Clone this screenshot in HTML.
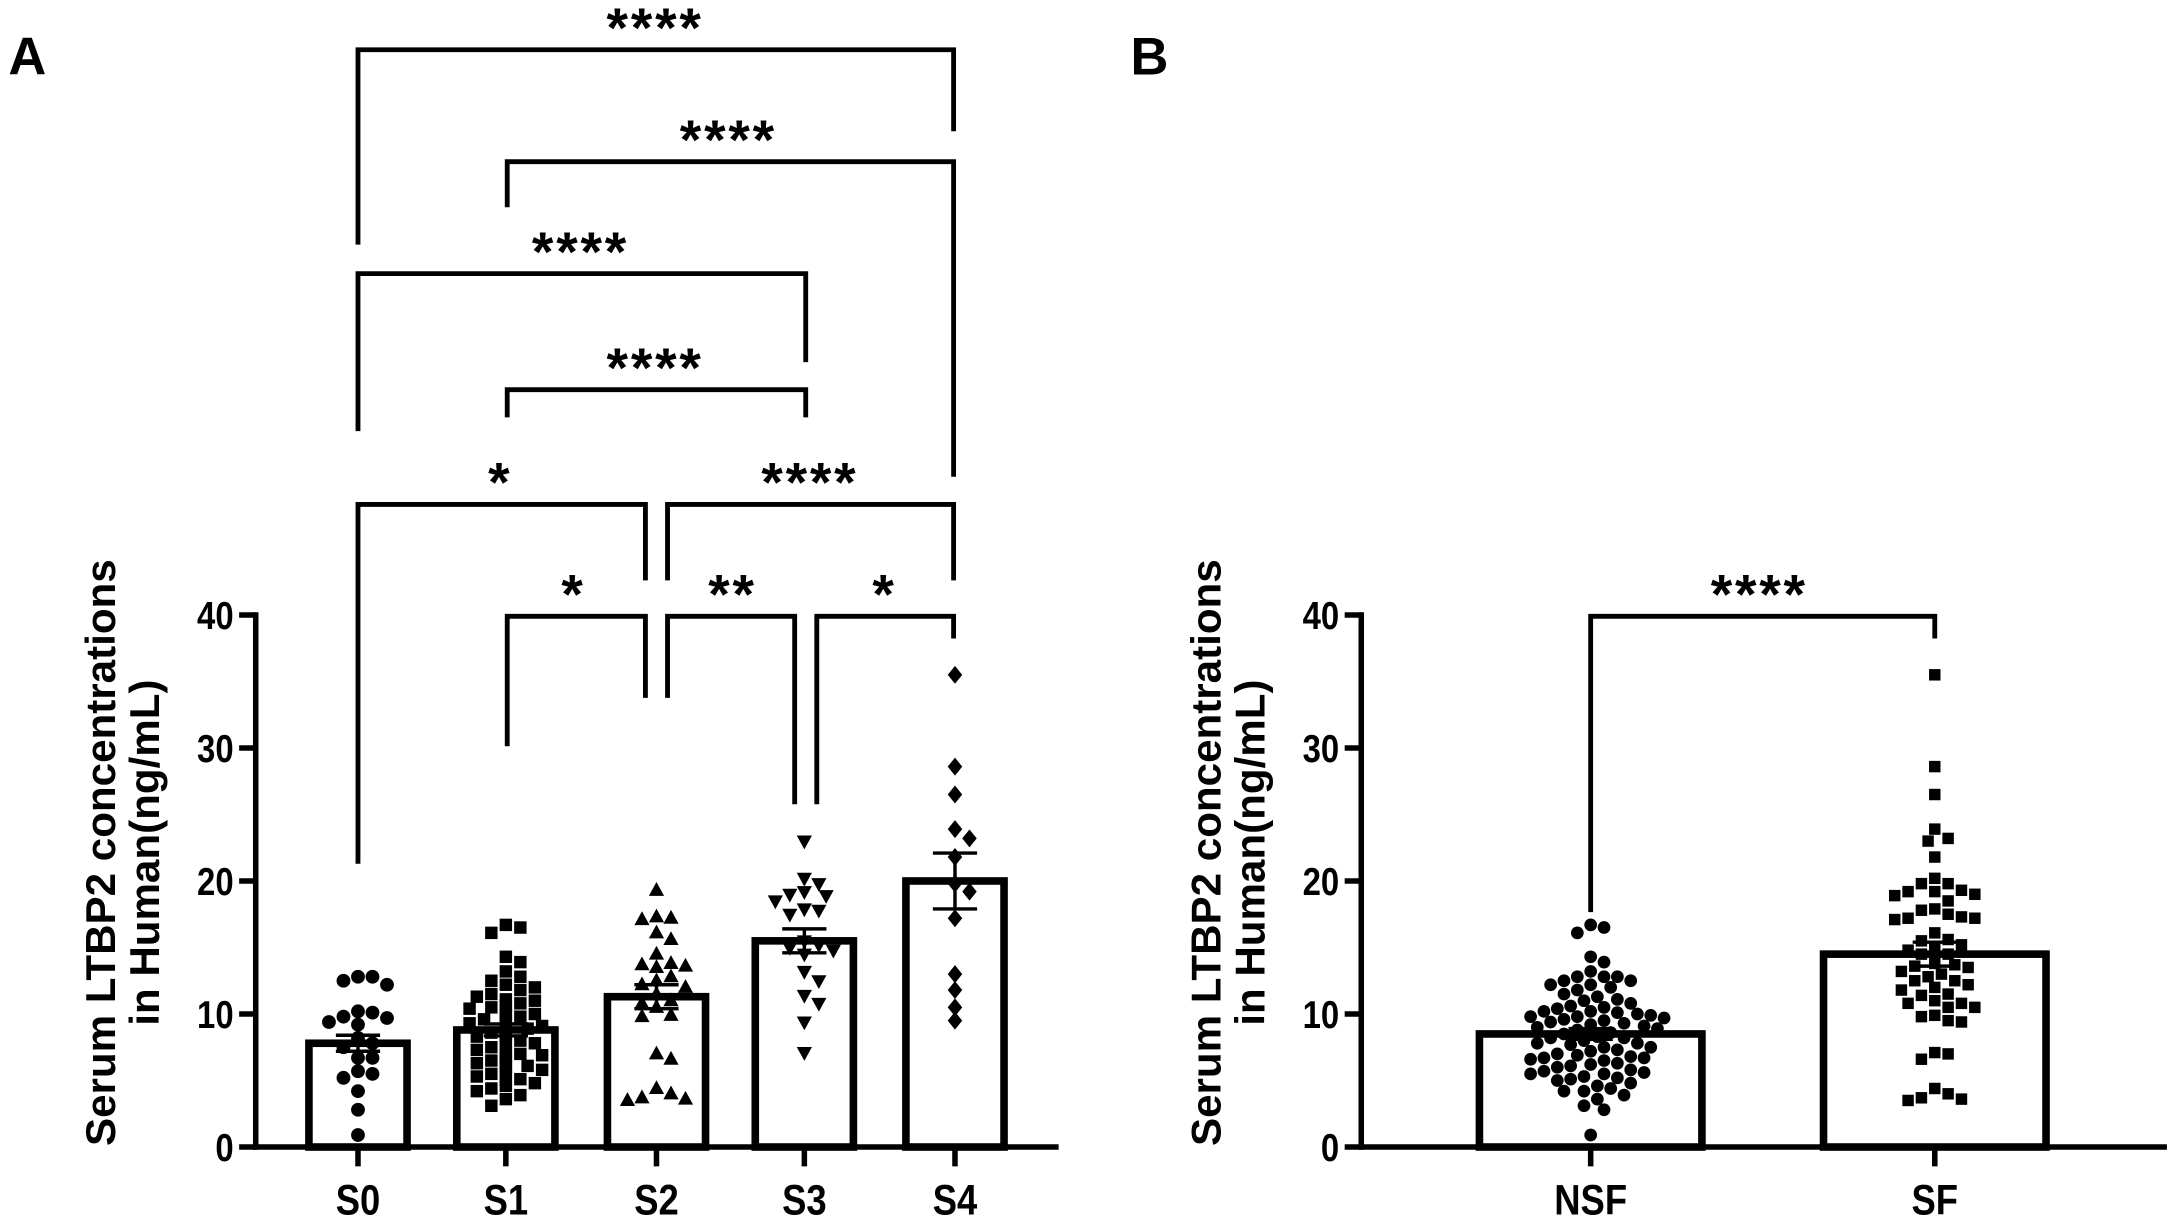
<!DOCTYPE html>
<html><head><meta charset="utf-8"><style>
html,body{margin:0;padding:0;background:#fff;}
svg{display:block;}
text{font-family:"Liberation Sans",Arial,sans-serif;font-weight:bold;fill:#000;}
</style></head><body>
<svg id="chart" width="2167" height="1215" viewBox="0 0 1568 879.2" xmlns="http://www.w3.org/2000/svg">
<rect width="1568" height="880" fill="#fff"/>
<text x="6" y="54" font-size="38">A</text>
<text x="818" y="54" font-size="38">B</text>
<g id="gA"></g>
<g id="gB"></g>
</svg>
<script>
const catsA = ["S0","S1","S2","S3","S4"];
const meansA = [7.8, 8.8, 11.3, 15.5, 20.0];
const semA = [0.6, 0.45, 0.9, 0.9, 2.1];
const ptsS0 = [12.5,12.8,12.8,12.2,10.2,10.1,9.8,9.7,9.2,9.4,8.2,7.8,7.5,6.7,6.7,5.7,5.5,5.2,4.2,2.8,0.9];
const ptsS1 = [16.7,16.5,16.1,14.3,13.9,13.2,12.8,12.5,12.2,12,11.8,11.5,11.3,11.1,11,10.8,10.6,10.5,10.4,10.2,10,9.9,9.8,9.6,9.5,9.3,9.1,9,8.9,8.8,8.6,8.5,8.3,8.2,8,7.8,7.7,7.5,7.3,7.2,7,6.9,6.8,6.6,6.5,6.3,6.2,6.1,6,5.8,5.6,5.5,5.3,5.1,5,4.8,4.6,4.4,4.2,3.9,3.6,3.1];
const ptsS2 = [19.3,17.2,17.1,17.3,16.1,15.6,14.5,13.8,13.5,13.7,13.6,12.8,12.5,12.2,12,11.5,11,10.8,10.5,9.8,9.9,7,6.6,4.4,4.0,3.5,3.6,3.7];
const ptsS3 = [23,20.2,19.8,19.2,19,18.9,18.5,17.9,17.5,17.8,15.5,15.2,15,14.8,14.5,13.2,12.5,11.4,10.8,9.4,7.1];
const ptsS4 = [35.5,28.6,26.5,23.9,23.2,21.8,19.8,19.2,17.2,13,11.8,10.5,9.5];
const catsB = ["NSF","SF"];
const meansB = [8.5, 14.5];
const semB = [0.4, 0.9];
const ptsNSF = [12.5,12.8,12.8,12.2,10.2,10.1,9.8,9.7,9.2,9.4,8.2,7.8,7.5,6.7,6.7,5.7,5.5,5.2,4.2,2.8,0.9,16.7,16.5,16.1,14.3,13.9,13.2,12.8,12.5,12.2,12,11.8,11.5,11.3,11.1,11,10.8,10.6,10.5,10.4,10.2,10,9.9,9.8,9.6,9.5,9.3,9.1,9,8.9,8.8,8.6,8.5,8.3,8.2,8,7.8,7.7,7.5,7.3,7.2,7,6.9,6.8,6.6,6.5,6.3,6.2,6.1,6,5.8,5.6,5.5,5.3,5.1,5,4.8,4.6,4.4,4.2,3.9,3.6,3.1];
const ptsSF = [19.3,17.2,17.1,17.3,16.1,15.6,14.5,13.8,13.5,13.7,13.6,12.8,12.5,12.2,12,11.5,11,10.8,10.5,9.8,9.9,7,6.6,4.4,4.0,3.5,3.6,3.7,23,20.2,19.8,19.2,19,18.9,18.5,17.9,17.5,17.8,15.5,15.2,15,14.8,14.5,13.2,12.5,11.4,10.8,9.4,7.1,35.5,28.6,26.5,23.9,23.2,21.8,19.8,19.2,17.2,13,11.8,10.5,9.5];
const yTicks = [0,10,20,30,40];

const NS="http://www.w3.org/2000/svg";
function mk(tag, attrs, parent){const e=document.createElementNS(NS,tag);for(const k in attrs)e.setAttribute(k,attrs[k]);parent.appendChild(e);return e;}

function yScale(v){return 830 - v*(830-445)/40;}

function marker(shape,x,y,r,p){
  let e;
  if(shape==="circle") e=mk("circle",{cx:x,cy:y,r:r},p);
  else if(shape==="square") e=mk("rect",{x:x-r*0.9,y:y-r*0.9,width:r*1.8,height:r*1.8},p);
  else if(shape==="tri") e=mk("polygon",{points:`${x},${y-r*1.2} ${x-r*1.1},${y+r*0.8} ${x+r*1.1},${y+r*0.8}`},p);
  else if(shape==="itri") e=mk("polygon",{points:`${x},${y+r*1.2} ${x-r*1.1},${y-r*0.8} ${x+r*1.1},${y-r*0.8}`},p);
  else e=mk("polygon",{points:`${x},${y-r*1.3} ${x+r*1.05},${y} ${x},${y+r*1.3} ${x-r*1.05},${y}`},p);
  e.setAttribute("fill","#000");
  return e;
}

function swarm(vals,cx,r,maxOff){
  const placed=[];const out=[];
  const sorted=vals.map((v,i)=>({v,i})).sort((a,b)=>b.v-a.v);
  for(const o of sorted){
    const y=yScale(o.v);let xo=0;
    for(let k=0;k<60;k++){
      const cand=(k%2?1:-1)*Math.ceil(k/2)*r*1.05;
      if(Math.abs(cand)>maxOff) continue;
      if(!placed.some(p=>Math.hypot(p.x-(cx+cand),p.y-y)<r*1.9)){xo=cand;break;}
    }
    placed.push({x:cx+xo,y});out.push({x:cx+xo,y,v:o.v});
  }
  return out;
}

function drawPanel(g, cats, xs, means, sems, pts, shapes, barW, axX, axEnd, r, maxOff){
  cats.forEach((c,i)=>{
    const b=mk("rect",{x:xs[i]-barW/2,y:yScale(means[i]),width:barW,height:830-yScale(means[i]),fill:"#fff",stroke:"#000","stroke-width":5.5},g);
    
    
  });
  cats.forEach((c,i)=>{
    const gg=mk("g",{},g);
    
    
    swarm(pts[i],xs[i],r,maxOff).forEach(p=>marker(shapes[i],p.x,p.y,r,gg));
  });
  cats.forEach((c,i)=>{
    const eg=mk("g",{stroke:"#000","stroke-width":2.5},g);
    
    
    const yt=yScale(means[i]+sems[i]),yb=yScale(means[i]-sems[i]);
    mk("line",{x1:xs[i],x2:xs[i],y1:yt,y2:yb},eg);
    mk("line",{x1:xs[i]-16,x2:xs[i]+16,y1:yt,y2:yt},eg);
    mk("line",{x1:xs[i]-16,x2:xs[i]+16,y1:yb,y2:yb},eg);
  });
  const ya=mk("line",{x1:axX,x2:axX,y1:443,y2:832,stroke:"#000","stroke-width":4},g);
  
  const xa=mk("line",{x1:axX-2,x2:axEnd,y1:830,y2:830,stroke:"#000","stroke-width":4},g);
  
  yTicks.forEach(t=>{
    mk("line",{x1:axX-12,x2:axX,y1:yScale(t),y2:yScale(t),stroke:"#000","stroke-width":4},g);
    const tx=mk("text",{transform:`translate(${axX-16},${yScale(t)+10}) scale(0.85,1)`,"font-size":28,"text-anchor":"end"},g);
    tx.textContent=t;
    
  });
  cats.forEach((c,i)=>{
    mk("line",{x1:xs[i],x2:xs[i],y1:830,y2:844,stroke:"#000","stroke-width":4},g);
    const tx=mk("text",{transform:`translate(${xs[i]},879) scale(0.85,1)`,"font-size":31,"text-anchor":"middle"},g);
    tx.textContent=c;
    
  });
  const yl=mk("text",{transform:`translate(${axX-102},617) rotate(-90)`,"font-size":30.5,"text-anchor":"middle"},g);
  const t1=mk("tspan",{x:0,dy:0},yl);t1.textContent="Serum LTBP2 concentrations";
  const t2=mk("tspan",{x:0,dy:32},yl);t2.textContent="in Human(ng/mL)";
  
}

function bracket(g,x1,x2,y,l1,l2,label,tx,name){
  const b=mk("g",{},g);
  
  
  mk("polyline",{points:`${x1},${l1} ${x1},${y} ${x2},${y} ${x2},${l2}`,fill:"none",stroke:"#000","stroke-width":3.5},b);
  const t=mk("text",{x:tx,y:y-2,"font-size":40,"text-anchor":"middle","letter-spacing":"2"},b);
  t.textContent=label;
}

const gA=document.getElementById("gA");
const xsA=[259,366,475,582,691];
drawPanel(gA,catsA,xsA,meansA,semA,[ptsS0,ptsS1,ptsS2,ptsS3,ptsS4],["circle","square","tri","itri","diamond"],71,185,766,5,30);
bracket(gA,259,690,36,177,95,"****",474,"sig-s0-s4");
bracket(gA,367,690,117,150,345,"****",527,"sig-s1-s4");
bracket(gA,259,583,198,312,262,"****",420,"sig-s0-s3");
bracket(gA,367,583,282,302,302,"****",474,"sig-s1-s3");
bracket(gA,259,467,365,625,420,"*",362,"sig-s0-s2");
bracket(gA,483,690,365,420,420,"****",586,"sig-s2-s4");
bracket(gA,367,467,446,540,505,"*",415,"sig-s1-s2");
bracket(gA,483,575,446,505,582,"**",530,"sig-s2-s3");
bracket(gA,591,690,446,582,462,"*",640,"sig-s3-s4");

const gB=document.getElementById("gB");
drawPanel(gB,catsB,[1151,1400],meansB,semB,[ptsNSF,ptsSF],["circle","square"],161,985,1568,4.6,70);
bracket(gB,1151,1400,446,660,462,"****",1273,"sig-nsf-sf");
</script>
</body></html>
